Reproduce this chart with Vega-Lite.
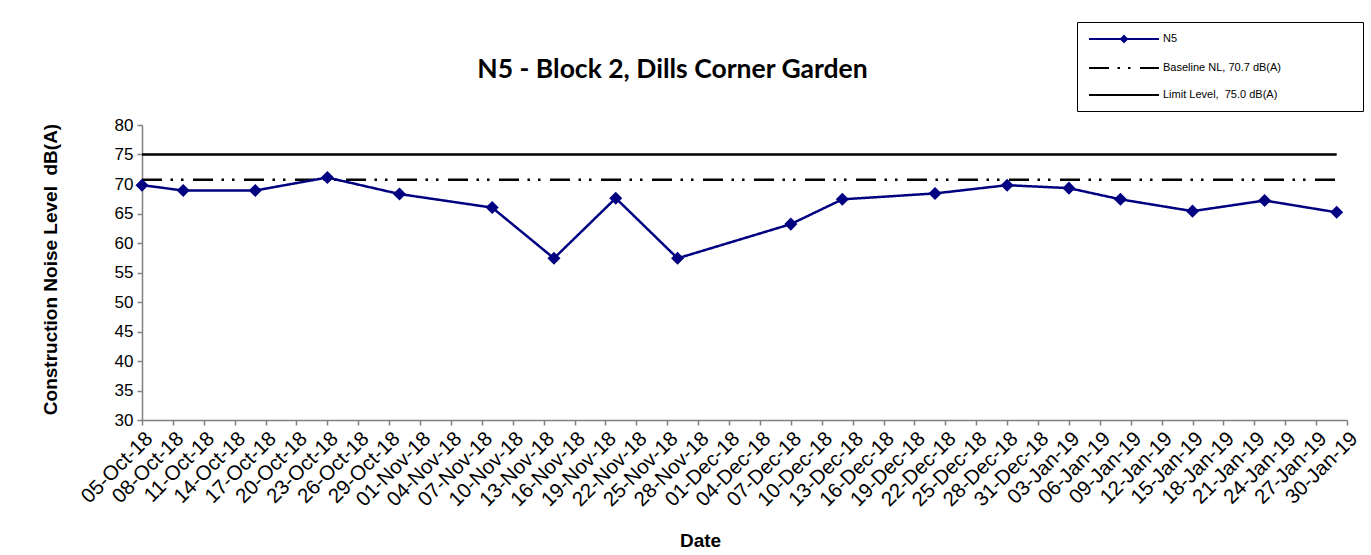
{
  "$schema": "https://vega.github.io/schema/vega-lite/v6.json",
  "width": 1205,
  "height": 295,
  "autosize": "none",
  "padding": {"left": 142, "top": 125, "right": 24, "bottom": 135},
  "background": "white",
  "title": {
    "text": "N5 - Block 2, Dills Corner Garden",
    "font": "Lato",
    "fontSize": 26.5,
    "fontWeight": "bold",
    "color": "black",
    "anchor": "middle",
    "dx": -72,
    "baseline": "alphabetic",
    "offset": -83
  },
  "datasets": {
    "n5": [
      {"date": "2018-10-05", "level": 69.8, "series": "N5"},
      {"date": "2018-10-09", "level": 68.9, "series": "N5"},
      {"date": "2018-10-16", "level": 68.9, "series": "N5"},
      {"date": "2018-10-23", "level": 71.1, "series": "N5"},
      {"date": "2018-10-30", "level": 68.3, "series": "N5"},
      {"date": "2018-11-08", "level": 66.0, "series": "N5"},
      {"date": "2018-11-14", "level": 57.4, "series": "N5"},
      {"date": "2018-11-20", "level": 67.6, "series": "N5"},
      {"date": "2018-11-26", "level": 57.4, "series": "N5"},
      {"date": "2018-12-07", "level": 63.2, "series": "N5"},
      {"date": "2018-12-12", "level": 67.4, "series": "N5"},
      {"date": "2018-12-21", "level": 68.4, "series": "N5"},
      {"date": "2018-12-28", "level": 69.8, "series": "N5"},
      {"date": "2019-01-03", "level": 69.3, "series": "N5"},
      {"date": "2019-01-08", "level": 67.4, "series": "N5"},
      {"date": "2019-01-15", "level": 65.4, "series": "N5"},
      {"date": "2019-01-22", "level": 67.2, "series": "N5"},
      {"date": "2019-01-29", "level": 65.2, "series": "N5"}
    ],
    "ref": [
      {"series": "Baseline NL, 70.7 dB(A)", "level": 70.7, "start": "2018-10-05", "end": "2019-01-29"},
      {"series": "Limit Level,\u00a0 75.0 dB(A)", "level": 75.0, "start": "2018-10-05", "end": "2019-01-29"}
    ]
  },
  "layer": [
    {
      "data": {"name": "ref"},
      "mark": {"type": "rule", "strokeWidth": 2.5},
      "encoding": {
        "x": {"field": "start", "type": "temporal"},
        "x2": {"field": "end"},
        "y": {"field": "level", "type": "quantitative"},
        "color": {"field": "series", "type": "nominal"},
        "strokeDash": {"field": "series", "type": "nominal"}
      }
    },
    {
      "data": {"name": "n5"},
      "mark": {"type": "line", "strokeWidth": 2.5},
      "encoding": {
        "x": {"field": "date", "type": "temporal"},
        "y": {"field": "level", "type": "quantitative"},
        "color": {"field": "series", "type": "nominal"},
        "strokeDash": {"field": "series", "type": "nominal"}
      }
    },
    {
      "data": {"name": "n5"},
      "mark": {"type": "point", "shape": "diamond", "filled": true, "size": 170, "opacity": 1, "color": "#000080"},
      "encoding": {
        "x": {"field": "date", "type": "temporal"},
        "y": {"field": "level", "type": "quantitative"}
      }
    }
  ],
  "encoding": {
    "x": {
      "field": "date",
      "type": "temporal",
      "title": "Date",
      "scale": {
        "type": "utc",
        "domain": [
          {"year": 2018, "month": 10, "date": 5, "utc": true},
          {"year": 2019, "month": 1, "date": 30, "utc": true}
        ]
      },
      "axis": {
        "values": [
          {"year": 2018, "month": 10, "date": 5, "utc": true},
          {"year": 2018, "month": 10, "date": 8, "utc": true},
          {"year": 2018, "month": 10, "date": 11, "utc": true},
          {"year": 2018, "month": 10, "date": 14, "utc": true},
          {"year": 2018, "month": 10, "date": 17, "utc": true},
          {"year": 2018, "month": 10, "date": 20, "utc": true},
          {"year": 2018, "month": 10, "date": 23, "utc": true},
          {"year": 2018, "month": 10, "date": 26, "utc": true},
          {"year": 2018, "month": 10, "date": 29, "utc": true},
          {"year": 2018, "month": 11, "date": 1, "utc": true},
          {"year": 2018, "month": 11, "date": 4, "utc": true},
          {"year": 2018, "month": 11, "date": 7, "utc": true},
          {"year": 2018, "month": 11, "date": 10, "utc": true},
          {"year": 2018, "month": 11, "date": 13, "utc": true},
          {"year": 2018, "month": 11, "date": 16, "utc": true},
          {"year": 2018, "month": 11, "date": 19, "utc": true},
          {"year": 2018, "month": 11, "date": 22, "utc": true},
          {"year": 2018, "month": 11, "date": 25, "utc": true},
          {"year": 2018, "month": 11, "date": 28, "utc": true},
          {"year": 2018, "month": 12, "date": 1, "utc": true},
          {"year": 2018, "month": 12, "date": 4, "utc": true},
          {"year": 2018, "month": 12, "date": 7, "utc": true},
          {"year": 2018, "month": 12, "date": 10, "utc": true},
          {"year": 2018, "month": 12, "date": 13, "utc": true},
          {"year": 2018, "month": 12, "date": 16, "utc": true},
          {"year": 2018, "month": 12, "date": 19, "utc": true},
          {"year": 2018, "month": 12, "date": 22, "utc": true},
          {"year": 2018, "month": 12, "date": 25, "utc": true},
          {"year": 2018, "month": 12, "date": 28, "utc": true},
          {"year": 2018, "month": 12, "date": 31, "utc": true},
          {"year": 2019, "month": 1, "date": 3, "utc": true},
          {"year": 2019, "month": 1, "date": 6, "utc": true},
          {"year": 2019, "month": 1, "date": 9, "utc": true},
          {"year": 2019, "month": 1, "date": 12, "utc": true},
          {"year": 2019, "month": 1, "date": 15, "utc": true},
          {"year": 2019, "month": 1, "date": 18, "utc": true},
          {"year": 2019, "month": 1, "date": 21, "utc": true},
          {"year": 2019, "month": 1, "date": 24, "utc": true},
          {"year": 2019, "month": 1, "date": 27, "utc": true},
          {"year": 2019, "month": 1, "date": 30, "utc": true}
        ],
        "format": "%d-%b-%y",
        "labelAngle": -45,
        "labelFontSize": 20.5,
        "labelPadding": 3,
        "labelOverlap": false,
        "labelBound": false,
        "labelFlush": false,
        "titleFontSize": 19,
        "titleX": 558,
        "titleY": 120,
        "titleAlign": "center",
        "titleBaseline": "middle"
      }
    },
    "y": {
      "field": "level",
      "type": "quantitative",
      "title": "Construction Noise Level\u00a0 dB(A)",
      "scale": {"domain": [30, 80], "nice": false, "zero": false},
      "axis": {
        "values": [30, 35, 40, 45, 50, 55, 60, 65, 70, 75, 80],
        "labelFontSize": 17,
        "labelPadding": 4,
        "labelOverlap": false,
        "titleFontSize": 19,
        "titleX": -92,
        "titleY": 144,
        "titleAlign": "center",
        "titleBaseline": "middle"
      }
    },
    "color": {
      "field": "series",
      "type": "nominal",
      "scale": {
        "domain": ["N5", "Baseline NL, 70.7 dB(A)", "Limit Level,\u00a0 75.0 dB(A)"],
        "range": ["#000080", "#000000", "#000000"]
      },
      "legend": {
        "title": null,
        "orient": "none",
        "legendX": 935,
        "legendY": -103,
        "padding": 11,
        "symbolType": "M-7,0H7",
        "symbolSize": 100,
        "symbolStrokeWidth": 2,
        "symbolOffset": 30,
        "labelOffset": 33,
        "labelFontSize": 11,
        "labelFont": "Liberation Sans",
        "labelColor": "black",
        "labelLimit": 400,
        "rowPadding": 16,
        "strokeColor": "black",
        "fillColor": "white",
        "labelExpr": "datum.label + '\u00a0\u00a0\u00a0\u00a0\u00a0\u00a0\u00a0\u00a0\u00a0\u00a0\u00a0\u00a0\u00a0\u00a0\u00a0\u00a0\u00a0\u00a0\u00a0\u00a0\u00a0\u00a0\u00a0\u200b'",
        "encode": {
          "symbols": {
            "update": {
              "shape": {"signal": "datum.value === 'N5' ? 'M-7,0H7M0,-0.6L0.6,0L0,0.6L-0.6,0Z' : 'M-7,0H7'"},
              "fill": {"signal": "datum.value === 'N5' ? '#000080' : 'transparent'"}
            }
          }
        }
      }
    },
    "strokeDash": {
      "field": "series",
      "type": "nominal",
      "scale": {
        "domain": ["N5", "Baseline NL, 70.7 dB(A)", "Limit Level,\u00a0 75.0 dB(A)"],
        "range": [[1, 0], [20, 8.5, 2.5, 8, 2.5, 9.5], [1, 0]]
      },
      "legend": null
    }
  },
  "config": {
    "font": "Liberation Sans",
    "view": {"stroke": null},
    "axis": {
      "grid": false,
      "domainColor": "#808080",
      "domainWidth": 1.5,
      "tickColor": "#808080",
      "tickWidth": 1.5,
      "tickSize": 5,
      "labelColor": "black",
      "labelFont": "Liberation Sans",
      "titleFont": "Liberation Sans",
      "titleFontWeight": "bold",
      "titleColor": "black"
    }
  }
}
